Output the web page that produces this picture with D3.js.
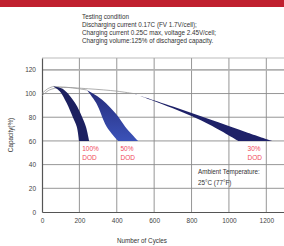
<!DOCTYPE html>
<html lang="en">
<head>
    <meta charset="UTF-8">
    <title>Cycle life</title>
    <script src="https://d3js.org/d3.v7.min.js"></script>
    <style>
        body { margin: 0; background: #fff; }
        text { font-family: "Liberation Sans", Arial, sans-serif; }
        .tick text { font-size: 6.5px; fill: #444; }
        .note { font-size: 6.3px; fill: #333; }
        .dod { font-size: 6.5px; fill: #f04a5a; }
    </style>
</head>
<body>
    <script>
        const xTicks = [0, 200, 400, 600, 800, 1000, 1200];
        const yTicks = [0, 20, 40, 60, 80, 100, 120];
        const testLines = [
            "Testing condition",
            "Discharging current 0.17C (FV 1.7V/cell);",
            "Charging current 0.25C max, voltage 2.45V/cell;",
            "Charging volume:125% of discharged capacity."
        ];

        // thin gray lead-in lines [cycles, capacity]
        const leadShared = [[0, 100], [30, 104], [60, 106]];
        const lead50 = [[60, 106], [150, 105], [240, 103]];
        const lead30 = [[0, 98], [40, 103], [100, 105], [250, 104], [400, 102], [488, 100]];

        // bands: left edge and right edge
        const dod100Left = [[60, 106], [95, 102], [132, 92], [165, 80], [186, 72], [198, 60]];
        const dod100Right = [[60, 106], [110, 104], [177, 92], [215, 80], [235, 72], [252, 60]];
        const dod50Left = [[240, 103], [290, 92], [346, 72], [407, 60]];
        const dod50Right = [[240, 103], [320, 95], [400, 82], [445, 72], [514, 60]];
        const dod30Left = [[488, 100], [700, 87.5], [900, 73.5], [1050, 60]];
        const dod30Right = [[488, 100], [700, 89], [900, 78], [1100, 67], [1232, 60]];

        const width = 284, height = 246;
        const svg = d3.select("body").append("svg")
            .attr("width", width)
            .attr("height", height);

        // red header strip
        svg.append("rect").attr("x", 0).attr("y", 0)
            .attr("width", width).attr("height", 7).attr("fill", "#c0202f");

        svg.selectAll(".note.cond").data(testLines).enter().append("text")
            .attr("class", "note cond")
            .attr("x", 82)
            .attr("y", (d, i) => 18.5 + i * 8)
            .text(d => d);

        const x = d3.scaleLinear().domain([0, 1300]).range([42, 285]);
        const y = d3.scaleLinear().domain([0, 130]).range([212, 58]);

        // grid
        svg.append("g").selectAll("line").data(xTicks.slice(1)).enter().append("line")
            .attr("x1", d => x(d)).attr("x2", d => x(d))
            .attr("y1", y(130)).attr("y2", y(0))
            .attr("stroke", "#8a8a8a").attr("stroke-width", 0.9);
        svg.append("g").selectAll("line").data(yTicks.slice(1)).enter().append("line")
            .attr("x1", x(0)).attr("x2", x(1300))
            .attr("y1", d => y(d)).attr("y2", d => y(d))
            .attr("stroke", d => d === 120 ? "#b0b0b0" : "#8a8a8a")
            .attr("stroke-width", d => d === 120 ? 1.6 : 0.9);
        svg.append("line")
            .attr("x1", x(0)).attr("x2", x(1300))
            .attr("y1", y(130)).attr("y2", y(130))
            .attr("stroke", "#aaa").attr("stroke-width", 0.8);

        // axes
        svg.append("g")
            .attr("transform", `translate(0,${y(0)})`)
            .call(d3.axisBottom(x).tickValues(xTicks).tickFormat(d3.format("d")).tickSize(0).tickPadding(6))
            .call(g => g.select(".domain").attr("stroke", "#555").attr("stroke-width", 1.2));
        svg.append("g")
            .attr("transform", `translate(${x(0)},0)`)
            .call(d3.axisLeft(y).tickValues(yTicks).tickFormat(d3.format("d")).tickSize(0).tickPadding(6))
            .call(g => g.select(".domain").attr("stroke", "#555").attr("stroke-width", 1.2));

        svg.append("text")
            .attr("transform", `translate(13,${y(65)}) rotate(-90)`)
            .attr("text-anchor", "middle")
            .attr("class", "note")
            .text("Capacity(%)");
        svg.append("text")
            .attr("x", 142).attr("y", 243)
            .attr("text-anchor", "middle")
            .attr("class", "note")
            .text("Number of Cycles");

        // bands
        const defs = svg.append("defs");
        const grad = defs.append("linearGradient")
            .attr("id", "g50").attr("x1", 0).attr("y1", 0).attr("x2", 0).attr("y2", 1);
        grad.append("stop").attr("offset", "0%").attr("stop-color", "#262c7a");
        grad.append("stop").attr("offset", "100%").attr("stop-color", "#3b52b8");

        const lineX = d3.line().x(d => x(d[0])).y(d => y(d[1])).curve(d3.curveCatmullRom);

        function bandPath(left, right, fill) {
            const l = lineX(left);
            const r = lineX(right.slice().reverse());
            svg.append("path")
                .attr("d", l + "L" + r.slice(1) + "Z")
                .attr("fill", fill);
        }

        [leadShared, lead50, lead30].forEach(p => {
            svg.append("path").attr("d", lineX(p))
                .attr("fill", "none").attr("stroke", "#9a9a9a").attr("stroke-width", 0.8);
        });

        bandPath(dod100Left, dod100Right, "#1c2060");
        bandPath(dod50Left, dod50Right, "url(#g50)");
        bandPath(dod30Left, dod30Right, "#1e2168");

        // labels
        const dodLabels = [
            { c: 215, t: "100%" },
            { c: 420, t: "50%" },
            { c: 1100, t: "30%" }
        ];
        dodLabels.forEach(d => {
            svg.append("text").attr("class", "dod").attr("x", x(d.c)).attr("y", 151).text(d.t);
            svg.append("text").attr("class", "dod").attr("x", x(d.c)).attr("y", 160).text("DOD");
        });

        svg.append("text").attr("class", "note").attr("x", 198).attr("y", 174).text("Ambient Temperature:");
        svg.append("text").attr("class", "note").attr("x", 198).attr("y", 185).text("25°C (77°F)");
    </script>
</body>
</html>
